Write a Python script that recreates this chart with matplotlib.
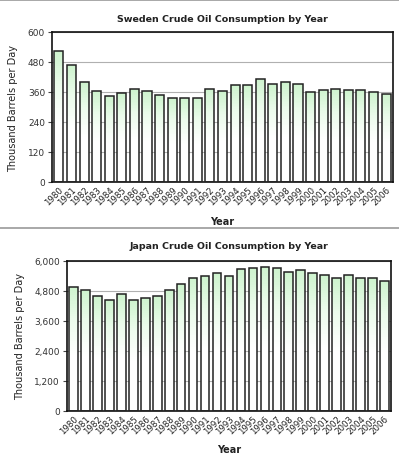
import matplotlib
matplotlib.use("Agg")
import matplotlib.pyplot as plt
import numpy as np
from matplotlib.colors import LinearSegmentedColormap

years = [str(y) for y in range(1980, 2007)]
sweden = [525, 469, 401, 364, 344, 357, 371, 364, 349, 336, 336, 337,
          371, 364, 389, 387, 412, 391, 399, 393, 361, 369, 372, 369, 368, 359, 353]
japan = [4960, 4853, 4600, 4427, 4693, 4453, 4533, 4600, 4853, 5080, 5333, 5400,
         5507, 5413, 5680, 5720, 5773, 5720, 5547, 5653, 5533, 5453, 5333, 5453, 5333, 5333, 5213]
sweden_ticks = [0, 120, 240, 360, 480, 600]
japan_ticks = [0, 1200, 2400, 3600, 4800, 6000]

W, H = 399, 456
fig = plt.figure(figsize=(W / 100, H / 100), dpi=100)
fig.patch.set_facecolor("white")

cmap = LinearSegmentedColormap.from_list("g", [(0, "#ffffff"), (0.45, "#ffffff"), (0.75, "#eafbea"), (1, "#cdf3cd")])
NSTEP = 60


def panel(rect, values, ticks, title, title_y, xlabel_y):
    ax = fig.add_axes(rect)
    x = np.arange(len(values))
    v = np.asarray(values, dtype=float)
    # gradient fill: stacked slices of each bar
    for k in range(NSTEP):
        ax.bar(x, v / NSTEP, bottom=v * k / NSTEP, width=0.72, color=cmap((k + 0.5) / NSTEP),
               linewidth=0, zorder=2)
    ax.bar(x, v, width=0.72, facecolor="none", edgecolor="#222222", linewidth=1.1, zorder=3)
    ax.set_xlim(-0.55, len(values) - 0.45)
    ax.set_ylim(ticks[0], ticks[-1])
    ax.set_yticks(ticks)
    ax.set_yticklabels([f"{t:,}" for t in ticks], fontsize=6.5, color="#333333")
    ax.set_xticks(x)
    ax.set_xticklabels(years, rotation=45, ha="right", rotation_mode="anchor", fontsize=6.2, color="#222222")
    ax.tick_params(axis="x", length=0, pad=2)
    ax.tick_params(axis="y", length=3, width=0.8, color="#444444", pad=2)
    ax.yaxis.grid(True, color="#b0b0b0", linewidth=0.8)
    ax.set_axisbelow(True)
    for s in ax.spines.values():
        s.set_color("#111111")
        s.set_linewidth(1.2)
    ax.set_ylabel("Thousand Barrels per Day", fontsize=7, color="#222222", labelpad=7)
    cx = rect[0] + rect[2] / 2
    fig.text(cx, title_y, title, ha="center", va="center", fontsize=6.8, fontweight="bold", color="#222222")
    fig.text(cx, xlabel_y, "Year", ha="center", va="center", fontsize=7, fontweight="bold", color="#222222")
    return ax


# Sweden: axes px left 52, right 393, top 33, bottom 183
panel([52 / W, 1 - 183 / H, (393 - 52) / W, 150 / H], sweden, sweden_ticks,
      "Sweden Crude Oil Consumption by Year", 1 - 19 / H, 1 - 222 / H)
# Japan: left 67, right 391, top 262, bottom 412
panel([67 / W, 1 - 412 / H, (391 - 67) / W, 150 / H], japan, japan_ticks,
      "Japan Crude Oil Consumption by Year", 1 - 247 / H, 1 - 450 / H)

# separator lines
fig.add_artist(plt.Line2D([0, 1], [1 - 228.5 / H, 1 - 228.5 / H], color="#999999", linewidth=1.2))
fig.add_artist(plt.Line2D([0, 1], [1 - 0.8 / H, 1 - 0.8 / H], color="#999999", linewidth=1.2))

fig.savefig("out.png", dpi=100, facecolor="white")
